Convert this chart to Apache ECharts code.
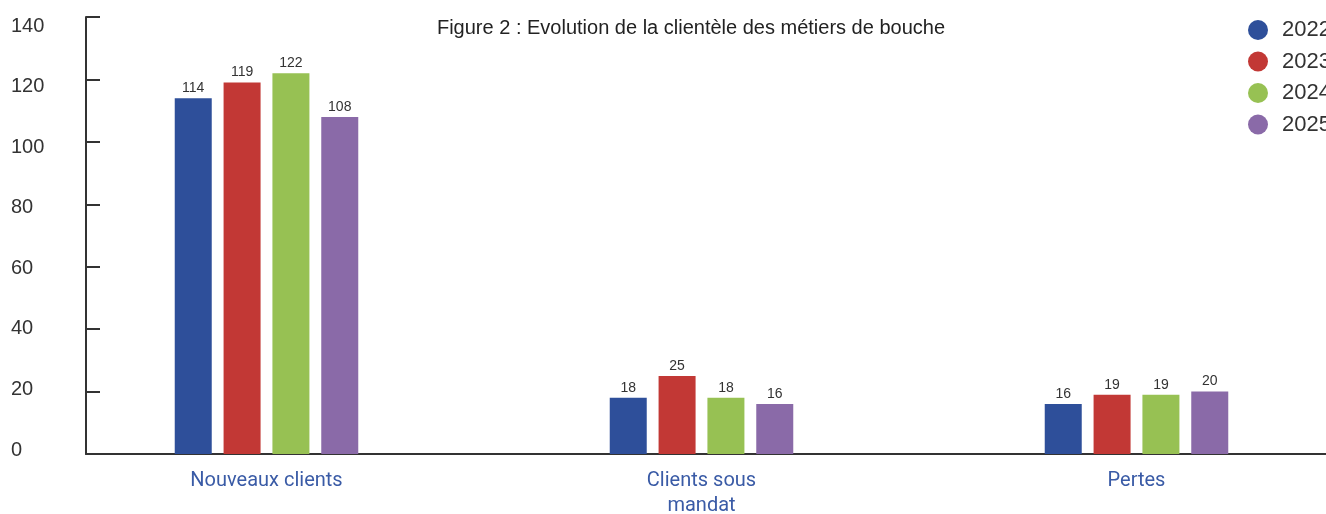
<!DOCTYPE html>
<html><head><meta charset="utf-8">
<script src="https://cdn.jsdelivr.net/npm/echarts@6/dist/echarts.min.js"></script>
<style>html,body{margin:0;padding:0;background:#fff}#c{width:1326px;height:514px}</style>
</head><body><div id="c"></div>
<script>
const categories = ['Nouveaux clients', 'Clients sous\nmandat', 'Pertes'];
const years = ['2022', '2023', '2024', '2025'];
const v2022 = [114, 18, 16];
const v2023 = [119, 25, 19];
const v2024 = [122, 18, 19];
const v2025 = [108, 16, 20];
const yTicks = [0, 20, 40, 60, 80, 100, 120, 140];
const colors = ['#2E4F9A', '#C23835', '#97C153', '#8A6AA8'];
const values = [v2022, v2023, v2024, v2025];

const chart = echarts.init(document.getElementById('c'));
const FONT = 'Roboto';
const HFONT = 'Liberation Sans';
chart.setOption({
  animation: false,
  title: {
    text: 'Figure 2 : Evolution de la clientèle des métiers de bouche',
    left: 686, top: 13, textAlign: 'center',
    textStyle: {fontFamily: HFONT, fontSize: 20, fontWeight: 'normal', color: '#222'}
  },
  legend: {
    orient: 'vertical', left: 1243, top: 14,
    icon: 'circle', itemWidth: 20, itemHeight: 20, itemGap: 9.5,
    textStyle: {fontFamily: HFONT, fontSize: 22, color: '#333', padding: [0, 0, 0, 9]},
    data: years
  },
  grid: [
    {left: 49, right: -28, top: 17, bottom: 60, outerBoundsMode: 'none', containLabel: false},
    {left: 86, right: 0, top: 17, bottom: 60, outerBoundsMode: 'none', containLabel: false}
  ],
  xAxis: [
    {type: 'category', gridIndex: 0, data: categories,
     axisLine: {show: false}, axisTick: {show: false},
     axisLabel: {margin: 14, fontFamily: FONT, fontSize: 20, color: '#3A5BA6', lineHeight: 25}},
    {type: 'value', gridIndex: 1, min: 0, max: 1,
     axisLine: {show: true, lineStyle: {color: '#333', width: 2}},
     axisTick: {show: false}, axisLabel: {show: false}, splitLine: {show: false}}
  ],
  yAxis: [
    {type: 'value', gridIndex: 0, min: 0, max: 140, show: false, splitLine: {show: false}},
    {type: 'value', gridIndex: 1, min: 0, max: 140, interval: 20,
     axisLine: {show: true, lineStyle: {color: '#333', width: 2}},
     axisTick: {show: true, inside: true, length: 14, lineStyle: {color: '#333', width: 2}},
     axisLabel: {show: false}, splitLine: {show: false}},
    {type: 'value', gridIndex: 1, min: -1.32, max: 142.97, position: 'left',
     axisLine: {show: false}, axisTick: {show: false}, splitLine: {show: false},
     axisLabel: {customValues: yTicks, align: 'left', margin: 75,
       fontFamily: HFONT, fontSize: 20, color: '#333'}}
  ],
  series: years.map((y, i) => ({
    name: y, type: 'bar', xAxisIndex: 0, yAxisIndex: 0,
    data: values[i], barWidth: 37, barGap: '32%',
    itemStyle: {color: colors[i]},
    label: {show: true, position: 'top', distance: 3, fontFamily: HFONT, fontSize: 14, color: '#333'}
  }))
});
</script></body></html>
